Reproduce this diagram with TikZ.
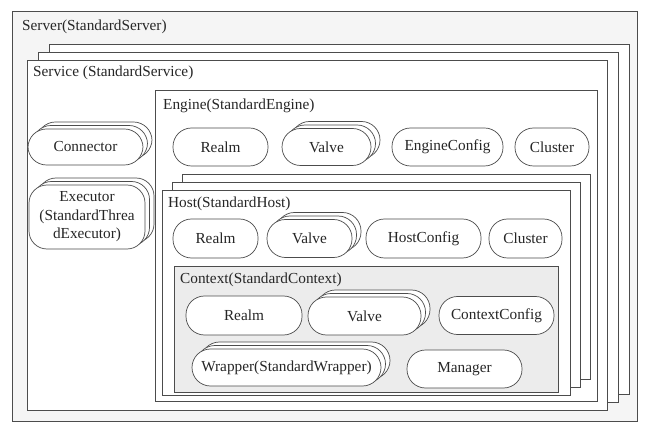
\documentclass[tikz,border=0pt]{standalone}
\usepackage{fontspec}
\setmainfont{Liberation Serif}
\usetikzlibrary{shadows}
\begin{document}
\begin{tikzpicture}[x=1bp,y=-1bp,
  font=\fontsize{15.3bp}{18.5bp}\selectfont,
  ln/.style={draw=black!70, line width=0.7bp},
  frame/.style={ln, rectangle, inner sep=0pt, anchor=north west},
  title/.style={anchor=base west, inner sep=0pt, text=black!85},
  pill/.style={ln, fill=white, rectangle, rounded corners=18.5bp, inner sep=0pt, text=black!85},
  lay/.style={ln, fill=white},
  stack/.style={general shadow={shadow xshift=9bp, shadow yshift=7bp, lay},
                general shadow={shadow xshift=4.5bp, shadow yshift=3.5bp, lay}},
  stackservice/.style={general shadow={shadow xshift=22bp, shadow yshift=16bp, lay},
                general shadow={shadow xshift=11bp, shadow yshift=8bp, lay}},
  stackhost/.style={general shadow={shadow xshift=20bp, shadow yshift=16bp, lay},
                general shadow={shadow xshift=10bp, shadow yshift=8bp, lay}}]
\useasboundingbox[fill=white] (0,0) rectangle (654,436);

% Server
\node[frame, fill=gray!8, minimum width=625bp, minimum height=410bp] (server) at (12,11) {};
\node[title] (servert) at (22,31) {Server(StandardServer)};

% Service
\node[frame, fill=white, stackservice, minimum width=580bp, minimum height=350bp] (service) at (27,60) {};
\node[title] (servicet) at (33,77) {Service (StandardService)};

\node[pill, stack, minimum width=115bp, minimum height=36bp] (connector) at (85.5,147) {Connector};
\node[pill, stack, rounded corners=18bp, align=center, minimum width=116bp, minimum height=64bp] (executor) at (87,217) {Executor\\(StandardThrea\\dExecutor)};

% Engine
\node[frame, fill=white, minimum width=442bp, minimum height=311bp] (engine) at (155,90) {};
\node[title] (enginet) at (163,110) {Engine(StandardEngine)};

\node[pill, minimum width=95bp, minimum height=38bp] (erealm) at (220.5,147) {Realm};
\node[pill, stack, minimum width=89bp, minimum height=37bp] (evalve) at (326.5,147) {Valve};
\node[pill, minimum width=111bp, minimum height=38bp] (econfig) at (447.5,147) {EngineConfig};
\node[pill, minimum width=74bp, minimum height=38bp] (ecluster) at (552,147) {Cluster};

% Host
\node[frame, fill=white, stackhost, minimum width=408bp, minimum height=205bp] (host) at (162,190) {};
\node[title] (hostt) at (168,208) {Host(StandardHost)};

\node[pill, minimum width=85bp, minimum height=39bp] (hrealm) at (215.5,238.5) {Realm};
\node[pill, stack, minimum width=85bp, minimum height=38bp] (hvalve) at (309.5,238.5) {Valve};
\node[pill, minimum width=115bp, minimum height=39bp] (hconfig) at (423.5,238.5) {HostConfig};
\node[pill, minimum width=73bp, minimum height=39bp] (hcluster) at (525.5,238.5) {Cluster};

% Context
\node[frame, fill=gray!15, minimum width=384bp, minimum height=126bp] (context) at (174,266) {};
\node[title] (contextt) at (180,284) {Context(StandardContext)};

\node[pill, minimum width=116bp, minimum height=39bp] (crealm) at (244,315.5) {Realm};
\node[pill, stack, minimum width=113bp, minimum height=38bp] (cvalve) at (364.5,316) {Valve};
\node[pill, minimum width=115bp, minimum height=38bp] (cconfig) at (496.5,315.5) {ContextConfig};

\node[pill, stack, minimum width=189bp, minimum height=37bp] (wrapper) at (286.5,367.5) {Wrapper(StandardWrapper)};
\node[pill, minimum width=115bp, minimum height=38bp] (manager) at (464.5,369) {Manager};
\end{tikzpicture}
\end{document}
